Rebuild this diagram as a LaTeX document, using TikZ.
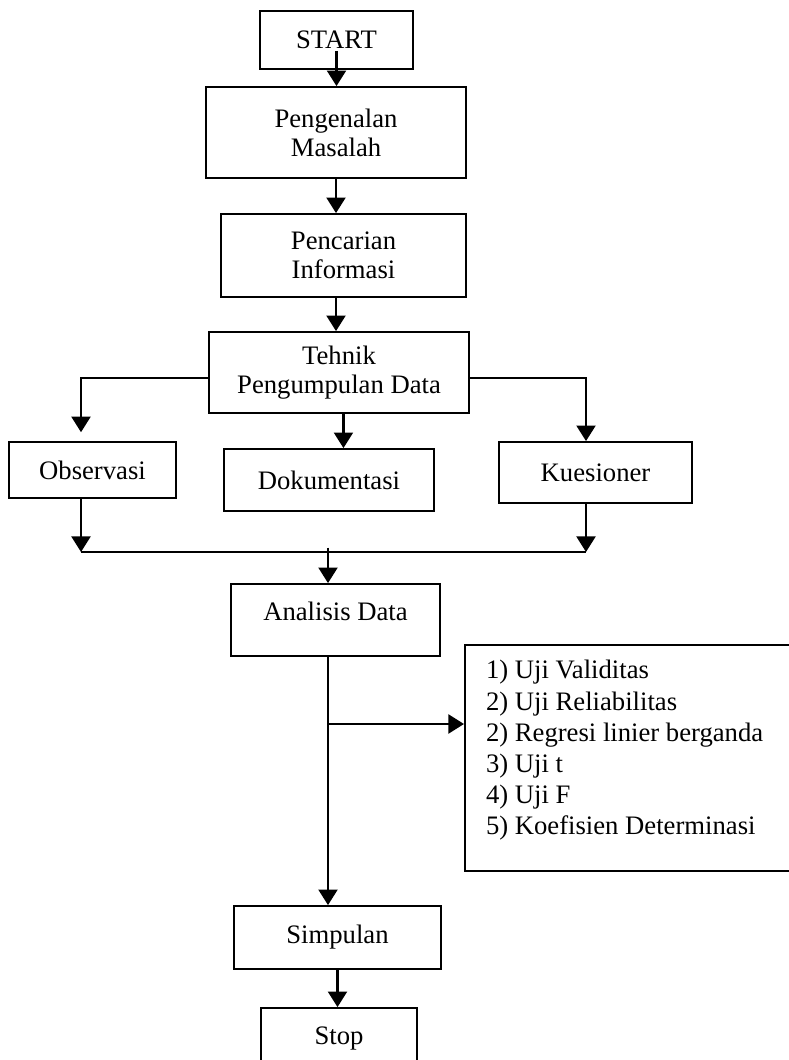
\documentclass[tikz,border=0pt]{standalone}
\usepackage{fontspec}
\setmainfont{Liberation Serif}
\usetikzlibrary{arrows.meta,positioning}

\begin{document}
\begin{tikzpicture}[
    x=0.45pt, y=-0.45pt,
    stepbox/.style={rectangle, draw=black, line width=0.8pt, fill=white,
                    align=center, inner sep=2pt, font=\fontsize{12}{13}\selectfont},
    listbox/.style={rectangle, draw=black, line width=0.8pt, fill=white, anchor=north west,
                    inner xsep=9.5pt, inner ysep=7pt, font=\fontsize{12}{14}\selectfont},
    arr/.style={-{Triangle[length=7pt,width=8.5pt]}, line width=1.1pt},
    line/.style={line width=1.1pt}
]
\useasboundingbox (0,0) rectangle (788,1060);

\node[stepbox, minimum width=68.85pt, minimum height=26.1pt] (start) at (336.5,40) {START};
\node[stepbox, minimum width=117pt, minimum height=40.95pt] (masalah) at (336,132.5) {Pengenalan\\Masalah};
\node[stepbox, minimum width=110.25pt, minimum height=37.35pt] (info) at (343.5,255.5) {Pencarian\\Informasi};
\node[stepbox, minimum width=117pt, minimum height=36.45pt] (tehnik) at (339,372.5) {Tehnik\\Pengumpulan Data};
\node[stepbox, minimum width=75.15pt, minimum height=25.2pt] (obs) at (92.5,470) {Observasi};
\node[stepbox, minimum width=94.5pt, minimum height=27.9pt] (dok) at (329,480) {Dokumentasi};
\node[stepbox, minimum width=86.85pt, minimum height=27.45pt] (kues) at (595.5,472.5) {Kuesioner};
\node[stepbox, minimum width=94.05pt, minimum height=32.4pt, text height=2ex, text depth=2ex] (analisis) at (335.5,620) {Analisis Data};
\node[listbox] (list) at (464,644) {\parbox[c][87.7pt][t]{127.7pt}{\raggedright
    1) Uji Validitas\\
    2) Uji Reliabilitas\\
    2) Regresi linier berganda\\
    3) Uji t\\
    4) Uji F\\
    5) Koefisien Determinasi}};
\node[stepbox, minimum width=93.15pt, minimum height=28.35pt] (simpulan) at (337.5,937.5) {Simpulan};
\node[stepbox, minimum width=70.2pt, minimum height=27pt] (stop) at (339,1038) {Stop};

\coordinate (joinL) at (81,552);
\coordinate (joinR) at (586,552);
\coordinate (joinM) at (328,552);
\coordinate (split) at (328,724);

\draw[arr] ([yshift=8.5pt]start.south) -- (start.south |- masalah.north);
\draw[arr] (masalah.south) -- (masalah.south |- info.north);
\draw[arr] (info.south -| masalah.south) -- (masalah.south |- tehnik.north);
\draw[arr] ([xshift=2pt]tehnik.south) -- ([xshift=2pt]tehnik.south |- dok.north);
\draw[arr, shorten >=4pt] ([yshift=-2.5pt]tehnik.west) -| (obs.north -| joinL);
\draw[arr] ([yshift=-2.5pt]tehnik.east) -| (kues.north -| joinR);

\draw[arr] (obs.south -| joinL) -- (joinL);
\draw[arr] (kues.south -| joinR) -- (joinR);
\draw[line] (joinL) -- (joinR);
\draw[arr] ([yshift=2pt]joinM) -- (joinM |- analisis.north);

\draw[arr] (analisis.south -| split) -- (split |- simpulan.north);
\draw[arr] (split) -- (split -| list.west);
\draw[arr] (simpulan.south) -- (simpulan.south |- stop.north);
\end{tikzpicture}
\end{document}
